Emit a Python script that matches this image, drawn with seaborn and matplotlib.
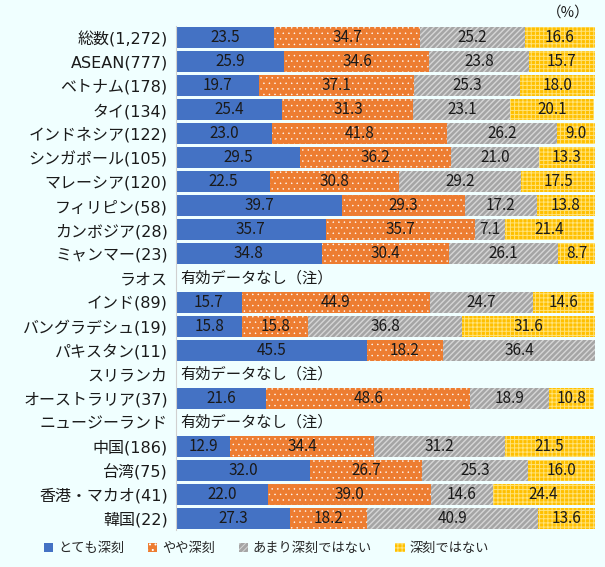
import numpy as np
import pandas as pd
import matplotlib.pyplot as plt
import seaborn as sns
from matplotlib.patches import Patch

# rows top to bottom, values in %
countries = ["総数(1,272)", "ASEAN(777)", "ベトナム(178)", "タイ(134)", "インドネシア(122)",
             "シンガポール(105)", "マレーシア(120)", "フィリピン(58)", "カンボジア(28)",
             "ミャンマー(23)", "ラオス", "インド(89)", "バングラデシュ(19)", "パキスタン(11)",
             "スリランカ", "オーストラリア(37)", "ニュージーランド", "中国(186)", "台湾(75)",
             "香港・マカオ(41)", "韓国(22)"]
very_serious = [23.5, 25.9, 19.7, 25.4, 23.0, 29.5, 22.5, 39.7, 35.7, 34.8, np.nan,
                15.7, 15.8, 45.5, np.nan, 21.6, np.nan, 12.9, 32.0, 22.0, 27.3]
somewhat_serious = [34.7, 34.6, 37.1, 31.3, 41.8, 36.2, 30.8, 29.3, 35.7, 30.4, np.nan,
                    44.9, 15.8, 18.2, np.nan, 48.6, np.nan, 34.4, 26.7, 39.0, 18.2]
not_very_serious = [25.2, 23.8, 25.3, 23.1, 26.2, 21.0, 29.2, 17.2, 7.1, 26.1, np.nan,
                    24.7, 36.8, 36.4, np.nan, 18.9, np.nan, 31.2, 25.3, 14.6, 40.9]
not_serious = [16.6, 15.7, 18.0, 20.1, 9.0, 13.3, 17.5, 13.8, 21.4, 8.7, np.nan,
               14.6, 31.6, 0.0, np.nan, 10.8, np.nan, 21.5, 16.0, 24.4, 13.6]
series_names = ["とても深刻", "やや深刻", "あまり深刻ではない", "深刻ではない"]
no_data_text = "有効データなし（注）"

bg = "#F0FFFF"
text_color = "#1a1a1a"
styles = [
    dict(facecolor="#4472C4", hatch=None, edgecolor="#4472C4", hlw=1.0),
    dict(facecolor="#ED7D31", hatch="...", edgecolor="#FFFFFF", hlw=0.3),
    dict(facecolor="#A5A5A5", hatch="//////", edgecolor="#D6D6D6", hlw=1.0),
    dict(facecolor="#FFC000", hatch="++++", edgecolor="#FFE37A", hlw=0.7),
]

sns.set_style("white")
plt.rcParams["font.family"] = ["Noto Sans CJK JP", "DejaVu Sans"]

df = pd.DataFrame({"country": countries,
                   series_names[0]: very_serious,
                   series_names[1]: somewhat_serious,
                   series_names[2]: not_very_serious,
                   series_names[3]: not_serious})
vals = df[series_names].fillna(0)
cum = vals.cumsum(axis=1)

fig = plt.figure(figsize=(6.05, 5.67), dpi=100, facecolor=bg)
ax = fig.add_axes([0.291, 0.0644, 0.692, 0.8906])
ax.set_facecolor(bg)

# draw cumulative totals from the widest down so each layer covers the previous one
for k in reversed(range(4)):
    plt.rcParams["hatch.linewidth"] = styles[k]["hlw"]
    plot_df = pd.DataFrame({"country": countries, "x": cum[series_names[k]].values})
    sns.barplot(data=plot_df, x="x", y="country", order=countries, orient="h",
                color=styles[k]["facecolor"], saturation=1, width=0.87, ax=ax,
                linewidth=0)
    for p in ax.containers[-1]:
        p.set_hatch(styles[k]["hatch"])
        p.set_edgecolor(styles[k]["edgecolor"])
        p.set_linewidth(0)
        if hasattr(p, "set_hatch_linewidth"):
            p.set_hatch_linewidth(styles[k]["hlw"])

# segment labels
for i in range(len(countries)):
    left = 0
    for k, name in enumerate(series_names):
        v = vals.loc[i, name]
        if v > 0:
            ax.text(left + v / 2, i, f"{v:.1f}", ha="center", va="center",
                    fontsize=11, color=text_color)
        left += v
    if np.isnan(very_serious[i]):
        ax.text(1, i, no_data_text, ha="left", va="center", fontsize=11, color=text_color)

ax.set_xlim(0, 100)
ax.set_ylim(len(countries) - 0.5, -0.5)
ax.set_xlabel("")
ax.set_ylabel("")
ax.set_xticks([])
ax.tick_params(axis="y", which="major", length=0, pad=6, labelsize=11.5, labelcolor=text_color)
for lab in ax.get_yticklabels():
    lab.set_family(["DejaVu Sans", "Noto Sans CJK JP"])
ax.set_yticks(np.arange(-0.5, len(countries), 1.0), minor=True)
ax.tick_params(axis="y", which="minor", length=7, color="#D0D0D0", width=1)
for s in ["top", "right", "bottom"]:
    ax.spines[s].set_visible(False)
ax.spines["left"].set_color("#D0D0D0")

fig.text(0.94, 0.978, "（%）", ha="center", va="center", fontsize=10.5, color=text_color)

plt.rcParams["hatch.linewidth"] = 0.7
handles = [Patch(facecolor=st["facecolor"], hatch=st["hatch"], edgecolor=st["edgecolor"],
                 linewidth=0, label=name) for st, name in zip(styles, series_names)]
fig.legend(handles=handles, loc="center left", bbox_to_anchor=(0.073, 0.032), ncol=4,
           frameon=False, fontsize=9.5, handlelength=0.7, handleheight=0.7,
           handletextpad=0.35, columnspacing=1.8, borderaxespad=0, borderpad=0)

fig.savefig("out.png", dpi=100, facecolor=bg)
